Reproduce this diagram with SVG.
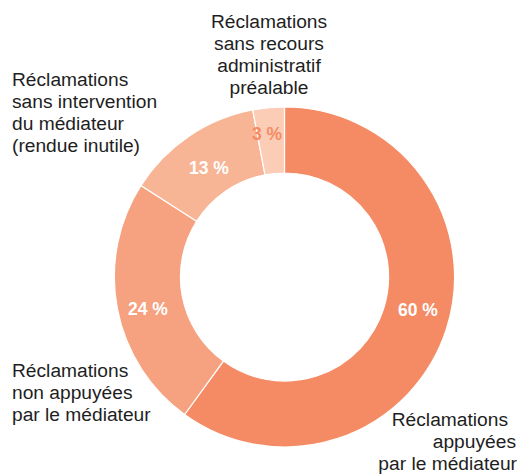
<svg xmlns="http://www.w3.org/2000/svg" width="521" height="474" viewBox="0 0 521 474">
<style>
.lbl{font-family:"Liberation Sans",Arial,sans-serif;font-size:19.2px;fill:#1e1e1e}
.pct{font-family:"Liberation Sans",Arial,sans-serif;font-size:17.5px;font-weight:bold;fill:#ffffff;text-anchor:middle}
.seg{stroke:#ffffff;stroke-width:1.2}
</style>
<rect width="521" height="474" fill="#ffffff"/>
<g id="chart">
<g id="seg60"><path class="seg" fill="#F58B65" d="M284.5,107 A170,170 0 1 1 184.6,414.5 L223.4,361.1 A104,104 0 1 0 284.5,173 Z"/></g>
<g id="seg24"><path class="seg" fill="#F6A17F" d="M184.6,414.5 A170,170 0 0 1 140.9,185.6 L196.6,221.2 A104,104 0 0 0 223.4,361.1 Z"/></g>
<g id="seg13"><path class="seg" fill="#F8B595" d="M140.9,185.6 A170,170 0 0 1 252.7,110.0 L265.0,174.8 A104,104 0 0 0 196.6,221.2 Z"/></g>
<g id="seg3"><path class="seg" fill="#FBCDB6" d="M252.7,110.0 A170,170 0 0 1 284.5,107 L284.5,173 A104,104 0 0 0 265.0,174.8 Z"/></g>
</g>
<g id="values">
<text class="pct" x="418" y="316">60 %</text>
<text class="pct" x="148" y="315">24 %</text>
<text class="pct" x="209" y="174">13 %</text>
<text class="pct" x="267" y="140" style="fill:#F58B65">3 %</text>
</g>
<g id="label-top">
<text class="lbl" text-anchor="middle" x="269" y="28">Réclamations</text>
<text class="lbl" text-anchor="middle" x="269" y="50">sans recours</text>
<text class="lbl" text-anchor="middle" x="269" y="72">administratif</text>
<text class="lbl" text-anchor="middle" x="269" y="93.5">préalable</text>
</g>
<g id="label-left-top">
<text class="lbl" x="12" y="86">Réclamations</text>
<text class="lbl" x="12" y="108">sans intervention</text>
<text class="lbl" x="12" y="130">du médiateur</text>
<text class="lbl" x="12" y="152">(rendue inutile)</text>
</g>
<g id="label-left-bottom">
<text class="lbl" x="12" y="377">Réclamations</text>
<text class="lbl" x="12" y="399">non appuyées</text>
<text class="lbl" x="12" y="421">par le médiateur</text>
</g>
<g id="label-right">
<text class="lbl" text-anchor="end" x="508" y="426">Réclamations</text>
<text class="lbl" text-anchor="end" x="516" y="448">appuyées</text>
<text class="lbl" text-anchor="end" x="517" y="470">par le médiateur</text>
</g>
</svg>
